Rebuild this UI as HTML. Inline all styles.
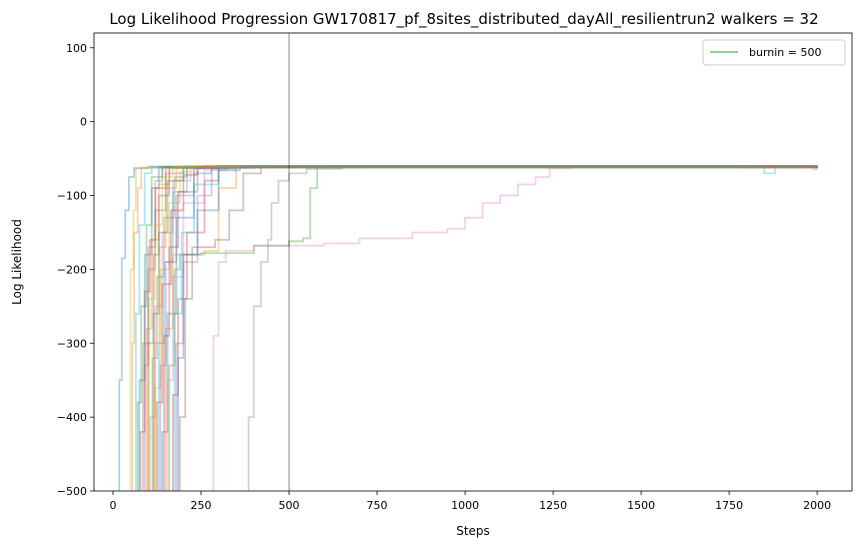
<!DOCTYPE html>
<html><head><meta charset="utf-8">
<style>
body{margin:0;background:#fff;font-family:"Liberation Sans","DejaVu Sans",sans-serif;}
svg text{font-family:"DejaVu Sans","Liberation Sans",sans-serif;}
</style></head>
<body>
<svg id="chart" width="868" height="547" viewBox="0 0 868 547" xmlns="http://www.w3.org/2000/svg">
<text x="464" y="24" text-anchor="middle" font-size="15" fill="#000">Log Likelihood Progression GW170817_pf_8sites_distributed_dayAll_resilientrun2 walkers = 32</text>
<g id="plot"></g>
<text x="473" y="535" text-anchor="middle" font-size="12">Steps</text>
<text transform="translate(21,262) rotate(-90)" text-anchor="middle" font-size="12">Log Likelihood</text>
</svg>
<script>
const xTicks=[0,250,500,750,1000,1250,1500,1750,2000];
const yTicks=[100,0,-100,-200,-300,-400,-500];
const burnin=500;
// walkers: [step, logL] keypoints; value holds until next keypoint
const walkers=[
[[15,-520],[18,-350],[25,-185],[35,-120],[45,-75],[60,-63],[100,-61],[600,-60],[2000,-60]],
[[50,-520],[55,-300],[60,-150],[70,-90],[80,-62],[600,-60],[2000,-61]],
[[60,-520],[70,-380],[80,-250],[95,-140],[110,-75],[140,-61],[2000,-60]],
[[70,-520],[78,-420],[90,-230],[105,-160],[120,-90],[150,-62],[400,-60],[2000,-61]],
[[80,-520],[90,-330],[100,-200],[120,-120],[150,-70],[200,-61],[2000,-60]],
[[90,-520],[100,-300],[115,-180],[130,-100],[160,-63],[260,-60],[2000,-60]],
[[95,-520],[105,-400],[120,-250],[140,-150],[170,-80],[220,-62],[500,-60],[2000,-61]],
[[100,-520],[112,-320],[125,-210],[145,-130],[175,-75],[210,-61],[2000,-60]],
[[110,-520],[120,-360],[135,-200],[160,-110],[190,-68],[230,-61],[2000,-62]],
[[120,-520],[130,-300],[145,-190],[170,-95],[210,-63],[300,-60],[2000,-60]],
[[130,-520],[140,-420],[155,-260],[180,-130],[230,-70],[280,-61],[2000,-61]],
[[140,-520],[150,-280],[170,-180],[200,-180],[260,-175],[300,-90],[350,-62],[450,-60],[2000,-60]],
[[150,-520],[160,-330],[175,-200],[190,-180],[250,-178],[400,-168],[500,-162],[540,-158],[560,-90],[580,-62],[700,-61],[2000,-61]],
[[160,-520],[170,-370],[185,-240],[210,-150],[260,-80],[300,-62],[2000,-60]],
[[170,-520],[180,-300],[200,-190],[240,-100],[280,-64],[350,-61],[2000,-60]],
[[180,-520],[190,-400],[205,-240],[225,-170],[290,-160],[330,-120],[370,-70],[420,-62],[2000,-61]],
[[280,-520],[285,-290],[300,-190],[320,-175],[400,-168],[600,-165],[700,-158],[850,-150],[950,-145],[1000,-130],[1050,-110],[1100,-100],[1150,-85],[1200,-75],[1240,-63],[1300,-61],[2000,-62]],
[[375,-520],[385,-400],[400,-250],[420,-190],[440,-160],[450,-110],[470,-80],[500,-70],[550,-64],[650,-61],[2000,-62]],
[[40,-520],[50,-200],[58,-120],[65,-63],[200,-60],[2000,-60]],
[[55,-520],[65,-260],[75,-140],[90,-70],[110,-61],[2000,-61]],
[[65,-520],[75,-350],[90,-180],[110,-90],[130,-62],[2000,-60]],
[[85,-520],[95,-280],[110,-160],[130,-85],[160,-62],[2000,-62]],
[[105,-520],[115,-260],[130,-150],[155,-80],[200,-62],[2000,-60]],
[[115,-520],[125,-380],[140,-220],[165,-120],[200,-72],[240,-61],[2000,-61]],
[[125,-520],[135,-330],[150,-190],[180,-100],[230,-63],[300,-60],[2000,-60]],
[[135,-520],[145,-290],[160,-170],[185,-95],[240,-63],[330,-61],[2000,-62]],
[[145,-520],[155,-350],[170,-210],[200,-110],[260,-66],[320,-61],[2000,-60]],
[[75,-520],[85,-300],[100,-170],[120,-80],[140,-62],[2000,-61]],
[[95,-520],[103,-240],[118,-140],[140,-75],[170,-61],[2000,-60]],
[[165,-520],[175,-260],[195,-150],[230,-85],[300,-63],[400,-61],[1800,-62],[1850,-70],[1880,-62],[2000,-61]],
[[175,-520],[185,-320],[200,-180],[240,-120],[300,-66],[360,-61],[2000,-60]],
[[110,-520],[118,-300],[132,-170],[150,-90],[180,-62],[1950,-62],[1990,-65],[2000,-65]]
];
const colors=['#1f77b4','#ff7f0e','#2ca02c','#d62728','#9467bd','#8c564b','#e377c2','#7f7f7f','#bcbd22','#17becf'];
const X0=94,X1=852,Y0=33,Y1=491,xmin=-54,xmax=2099,ymin=-500,ymax=120;
const sx=v=>X0+(v-xmin)/(xmax-xmin)*(X1-X0);
const sy=v=>Y1-(v-ymin)/(ymax-ymin)*(Y1-Y0);
const NS='http://www.w3.org/2000/svg';
const plot=document.getElementById('plot');
function mk(t,a){const e=document.createElementNS(NS,t);for(const k in a)e.setAttribute(k,a[k]);return e;}
const defs=mk('defs',{});const cp=mk('clipPath',{id:'clip'});cp.appendChild(mk('rect',{x:X0,y:Y0,width:X1-X0,height:Y1-Y0}));defs.appendChild(cp);plot.appendChild(defs);
const lines=mk('g',{'clip-path':'url(#clip)'});plot.appendChild(lines);
walkers.forEach((w,i)=>{
  let d='M'+sx(w[0][0]).toFixed(1)+','+sy(w[0][1]).toFixed(1);
  for(let j=1;j<w.length;j++){d+='H'+sx(w[j][0]).toFixed(1)+'V'+sy(w[j][1]).toFixed(1);}
  const p=mk('path',{d:d,fill:'none',stroke:colors[i%10],'stroke-width':1.8,'stroke-opacity':0.35});
  
  
  lines.appendChild(p);
});
const bl=mk('line',{x1:sx(burnin),x2:sx(burnin),y1:Y0,y2:Y1,stroke:'#000','stroke-width':0.8,'stroke-opacity':0.6});


plot.appendChild(bl);
const frame=mk('rect',{x:X0,y:Y0,width:X1-X0,height:Y1-Y0,fill:'none',stroke:'#000','stroke-width':0.8});


plot.appendChild(frame);
xTicks.forEach(t=>{
  const x=sx(t);
  const l=mk('line',{x1:x,x2:x,y1:Y1,y2:Y1+4,stroke:'#000','stroke-width':0.8});
  
  
  plot.appendChild(l);
  const tx=mk('text',{x:x,y:Y1+18,'text-anchor':'middle','font-size':11});
  
  
  tx.textContent=t;plot.appendChild(tx);
});
yTicks.forEach(t=>{
  const y=sy(t);
  const l=mk('line',{x1:X0-4,x2:X0,y1:y,y2:y,stroke:'#000','stroke-width':0.8});
  
  
  plot.appendChild(l);
  const tx=mk('text',{x:X0-7,y:y+4,'text-anchor':'end','font-size':11});
  
  
  tx.textContent=(t<0?'\u2212'+(-t):t);plot.appendChild(tx);
});
const lg=mk('g',{});


lg.appendChild(mk('rect',{x:703,y:40,width:142,height:25,rx:3,fill:'#fff',stroke:'#ccc','stroke-width':1}));
lg.appendChild(mk('line',{x1:710,x2:738,y1:52,y2:52,stroke:'#2ca02c','stroke-width':1}));
const lt=mk('text',{x:749,y:56,'font-size':11});lt.textContent='burnin = 500';lg.appendChild(lt);
plot.appendChild(lg);
</script>
</body></html>
